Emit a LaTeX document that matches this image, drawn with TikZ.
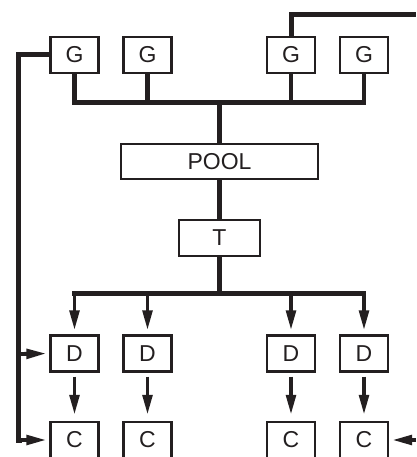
\documentclass[tikz,border=0pt]{standalone}
\usepackage{fontspec}
\setmainfont{Liberation Sans}
\usetikzlibrary{arrows.meta}
\definecolor{ink}{HTML}{231F20}
\begin{document}
\begin{tikzpicture}[x=1pt,y=-1pt,
 box/.style={draw=ink,line width=2.2pt,fill=white,minimum width=48pt,minimum height=36pt,inner sep=0pt,font=\fontsize{23}{27}\selectfont,text=ink},
 bus/.style={draw=ink,line width=5pt},
 drop/.style={draw=ink,line width=4.5pt},
 arr/.style={draw=ink,line width=3.8pt,-{Triangle[length=20pt,width=9.5pt]}},
]
\useasboundingbox (0,0) rectangle (416,457);
% top row
\node[box] (g1) at (74.5,55) {G};
\node[box] (g2) at (147.5,55) {G};
\node[box] (g3) at (291,55) {G};
\node[box] (g4) at (364,55) {G};
\node[box,minimum width=197pt,minimum height=35pt] (pool) at (219.5,161.5) {POOL};
\node[box,minimum width=81pt,minimum height=36pt] (t) at (219.5,238) {T};
\node[box] (d1) at (74.5,353.5) {D};
\node[box] (d2) at (147.5,353.5) {D};
\node[box] (d3) at (291,353.5) {D};
\node[box] (d4) at (364,353.5) {D};
\node[box] (c1) at (74.5,440) {C};
\node[box] (c2) at (147.5,440) {C};
\node[box] (c3) at (291,440) {C};
\node[box] (c4) at (364,440) {C};
% upper bus
\coordinate (ub1) at (74.5,103);
\coordinate (ub2) at (147.5,103);
\coordinate (ubm) at (219.5,103);
\coordinate (ub3) at (291,103);
\coordinate (ub4) at (364,103);
\draw[bus] (72.2,103) -- (366.3,103);
\foreach \i in {1,2,3,4} \draw[drop] (g\i.south) -- (ub\i);
\draw[bus] (ubm) -- (pool.north);
\draw[bus] (pool.south) -- (t.north);
% lower bus
\coordinate (lb1) at (74.5,293);
\coordinate (lb2) at (147.5,293);
\coordinate (lbm) at (219.5,293);
\coordinate (lb3) at (291,293);
\coordinate (lb4) at (364,293);
\draw[bus] (t.south) -- (lbm);
\draw[bus] (72.2,293) -- (366.3,293);
\foreach \i in {1,2,3,4} {
  \draw[arr,shorten >=4pt] (lb\i) -- (d\i.north);
  \draw[arr,shorten <=4pt,shorten >=6pt] (d\i.south) -- (c\i.north);
}
% left feedback
\coordinate (lc) at (18,354);
\draw[bus] (g1.west) -| (18,440) -- (22,440);
\draw[arr,shorten >=3pt] (16,440) -- (c1.west);
\draw[arr,shorten >=3pt] (lc) -- (d1.west);
% right feedback
\coordinate (rt) at (416,15);
\draw[bus] (g3.north) |- (rt);
\coordinate (rc) at (416,440);
\draw[arr,shorten >=3pt] (rc) -- (c4.east);
\end{tikzpicture}
\end{document}
